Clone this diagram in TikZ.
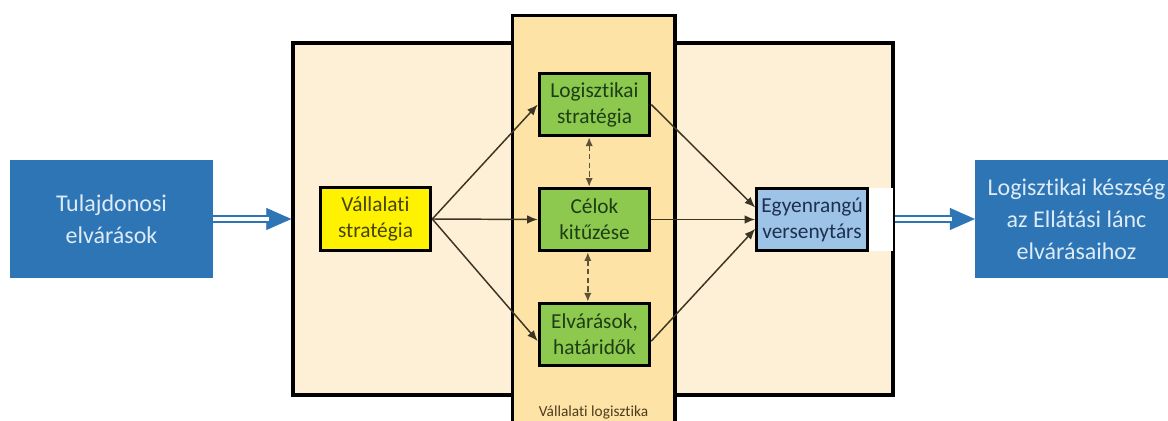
\documentclass[tikz,border=0pt]{standalone}
\usepackage{fontspec}
\setmainfont[Ligatures=NoCommon]{Carlito}
\usetikzlibrary{positioning,arrows.meta}
\definecolor{boxblue}{HTML}{2E75B6}
\definecolor{bluetext}{HTML}{DDEBF7}
\definecolor{firmfill}{HTML}{FDF0D6}
\definecolor{colfill}{HTML}{FEE3A6}
\definecolor{goalgreen}{HTML}{8DC84F}
\definecolor{greentext}{HTML}{1E3D14}
\definecolor{olivetext}{HTML}{45450A}
\definecolor{peerfill}{HTML}{9DC3E6}
\definecolor{peertext}{HTML}{1F3050}
\definecolor{arrowdark}{HTML}{3B3324}
\definecolor{dashdark}{HTML}{5E5338}
\definecolor{labeltext}{HTML}{4D3B1C}

\begin{document}
\begin{tikzpicture}[
  x=0.75pt, y=-0.75pt,
  node distance=37pt,
  bigbox/.style={fill=boxblue,text=bluetext,align=center,minimum width=152pt,minimum height=88.5pt,font=\fontsize{18}{24}\selectfont},
  smallbox/.style={draw=black,line width=2.2pt,align=center,minimum width=83pt,minimum height=47pt,font=\fontsize{16}{19.5}\selectfont},
  frame/.style={draw=black,line width=2.5pt,inner sep=0pt},
  thinarrow/.style={draw=arrowdark,line width=1.1pt,-{Latex[length=8pt,width=6.5pt]}},
  linkarrow/.style={draw=dashdark,line width=1pt,dashed,dash pattern=on 4pt off 2.5pt,{Latex[length=6.5pt,width=5.5pt]}-{Latex[length=6.5pt,width=5.5pt]}},
  headarrow/.style={draw=boxblue,line width=0.5pt,-{Triangle[length=18.75pt,width=16.5pt]}},
  shaft/.style={draw=boxblue,line width=1.5pt,double=white,double distance=3pt,shorten >=17pt}
]
\useasboundingbox (0,0) rectangle (1168,421);
\clip (0,0) rectangle (1168,421);

\node[frame,fill=firmfill,minimum width=450pt,minimum height=264pt] (firm) at (593,219) {};
\node[frame,fill=colfill,minimum width=122pt,minimum height=311pt] (col) at (593.5,222.5) {};
\node[text=labeltext,font=\fontsize{11.5}{13}\selectfont] (lbl) at (593.5,412) {Vállalati logisztika};

\node[bigbox] (own) at (111.5,219) {Tulajdonosi\\elvárások};
\node[bigbox] (req) at (1076.5,219) {Logisztikai készség\\az Ellátási lánc\\elvárásaihoz};

\node[smallbox,fill=yellow,text=olivetext] (vs) at (375.5,219) {Vállalati\\stratégia};
\node[smallbox,fill=goalgreen,text=greentext] (cel) at (594.5,219.5) {Célok\\kitűzése};
\node[smallbox,fill=goalgreen,text=greentext,above=of cel] (logi) {Logisztikai\\stratégia};
\node[smallbox,fill=goalgreen,text=greentext,below=of cel] (elv) {Elvárások,\\határidők};
\node[smallbox,fill=peerfill,text=peertext] (peer) at (812,219.5) {Egyenrangú\\versenytárs};
\fill[white] ([yshift=-1pt]peer.north east) rectangle ([xshift=-1.4pt,yshift=1pt]firm.east |- peer.south);

\draw[headarrow] (own.east) -- (firm.west);
\draw[shaft] (own.east) -- (firm.west);
\draw[headarrow] (firm.east) -- (req.west);
\draw[shaft] (firm.east) -- (req.west);

\draw[thinarrow] (vs.east) -- (logi.west);
\draw[thinarrow] (vs.east) -- (cel.west);
\draw[thinarrow] (vs.east) -- ([yshift=-5pt]elv.west);
\draw[thinarrow] (logi.east) -- ([yshift=9pt]peer.west);
\draw[thinarrow] (cel.east) -- (peer.west);
\draw[thinarrow] ([yshift=-5pt]elv.east) -- ([yshift=-7pt]peer.west);

\draw[linkarrow] ([xshift=-4pt]logi.south) -- ([xshift=-4pt]cel.north);
\draw[linkarrow] ([xshift=-5pt]cel.south) -- ([xshift=-5pt]elv.north);
\end{tikzpicture}
\end{document}
